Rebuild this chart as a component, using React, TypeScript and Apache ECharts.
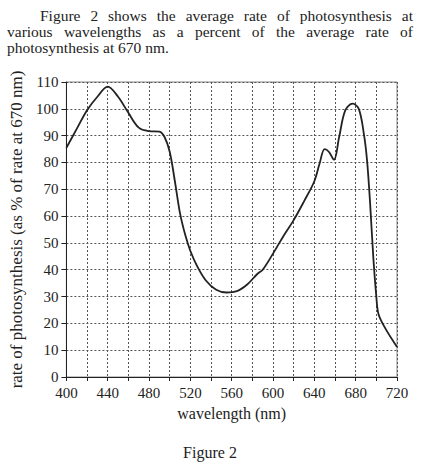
import React, { useEffect, useRef } from "react";
import * as echarts from "echarts";

const wavelengths = [400, 410, 420, 430, 440, 450, 460, 470, 480, 490, 495, 500, 505, 510, 515, 520, 527, 535, 545, 555, 565, 575, 585, 590, 600, 610, 620, 630, 640, 645, 650, 654, 659, 664, 670, 677, 683, 688, 691, 694, 697, 700, 702, 708, 720];
const rates = [85.5, 92.5, 99.5, 104.5, 108.3, 104.5, 98.5, 93, 91.7, 91.5, 89.5, 84, 73, 61, 53, 47, 41, 36, 32.5, 31.5, 32, 34.5, 38.5, 40, 46, 52.5, 58.5, 65.5, 73, 79.5, 85, 84, 81, 89.5, 99.5, 101.9, 100, 90.5, 80.8, 64.6, 45, 30, 23.6, 18.6, 11.2];

const paragraphLines = [
  "Figure 2 shows the average rate of photosynthesis at",
  "various wavelengths as a percent of the average rate of",
  "photosynthesis at 670 nm.",
];
const xAxisName = "wavelength (nm)";
const yAxisName = "rate of photosynthesis (as % of rate at 670 nm)";
const figureCaption = "Figure 2";

const SERIF = '"Liberation Serif", "Times New Roman", serif';

function measure(text: string, font: string): number {
  const c = document.createElement("canvas").getContext("2d");
  if (!c) return text.length * 7;
  c.font = font;
  return c.measureText(text).width;
}

function justifiedLine(text: string, x0: number, x1: number, y: number, justify: boolean, fontSize: number) {
  const font = `${fontSize}px ${SERIF}`;
  const style = { fill: "#222", font, verticalAlign: "middle" } as any;
  if (!justify) {
    return [{ type: "text", x: x0, y, style: { ...style, text, align: "left" } }];
  }
  const words = text.split(" ");
  const widths = words.map((w) => measure(w, font));
  const total = widths.reduce((a, b) => a + b, 0);
  const gap = (x1 - x0 - total) / (words.length - 1);
  const els: any[] = [];
  let x = x0;
  words.forEach((w, i) => {
    els.push({ type: "text", x, y, style: { ...style, text: w, align: "left" } });
    x += widths[i] + gap;
  });
  return els;
}

export default function App() {
  const ref = useRef<HTMLDivElement>(null);
  useEffect(() => {
    if (!ref.current) return;
    const chart = echarts.init(ref.current, undefined, { renderer: "svg" });
    const fs = 15.5;
    const graphics: any[] = [
      ...justifiedLine(paragraphLines[0], 40, 413, 15.5, true, fs),
      ...justifiedLine(paragraphLines[1], 7, 413, 31.5, true, fs),
      ...justifiedLine(paragraphLines[2], 7, 413, 47.5, false, fs),
      {
        type: "text",
        x: 210,
        y: 452,
        style: { text: figureCaption, fill: "#222", font: `16px ${SERIF}`, align: "center", verticalAlign: "middle" },
      },
    ];
    chart.setOption({
      animation: false,
      backgroundColor: "#fff",
      grid: {
        left: 59,
        right: 27,
        top: 82,
        bottom: 95,
        show: true,
        borderColor: "#888",
        borderWidth: 1,
        containLabel: false,
      },
      xAxis: {
        type: "value",
        min: 400,
        max: 720,
        interval: 20,
        name: xAxisName,
        nameLocation: "middle",
        nameGap: 28,
        nameTextStyle: { fontFamily: SERIF, fontSize: 16, color: "#222", verticalAlign: "top" },
        axisLine: { show: true, onZero: false, lineStyle: { color: "#222", width: 1 } },
        axisTick: { show: true, length: 4, lineStyle: { color: "#222" } },
        axisLabel: {
          fontFamily: SERIF,
          fontSize: 15,
          color: "#222",
          margin: 8,
          formatter: (v: number) => (v % 40 === 0 ? String(v) : ""),
        },
        splitLine: { show: true, lineStyle: { type: [2, 2], color: "#555", width: 1 } },
      },
      yAxis: {
        type: "value",
        min: 0,
        max: 110,
        interval: 10,
        name: yAxisName,
        nameLocation: "middle",
        nameRotate: 90,
        nameGap: 29,
        nameTextStyle: { fontFamily: SERIF, fontSize: 17, color: "#222" },
        axisLine: { show: true, lineStyle: { color: "#222", width: 1 } },
        axisTick: { show: true, length: 5, lineStyle: { color: "#222" } },
        axisLabel: { fontFamily: SERIF, fontSize: 15, color: "#222", margin: 8 },
        splitLine: { show: true, lineStyle: { type: [2, 2], color: "#555", width: 1 } },
      },
      series: [
        {
          type: "line",
          data: wavelengths.map((w, i) => [w, rates[i]]),
          smooth: 0.35,
          symbol: "none",
          lineStyle: { color: "#222", width: 1.8 },
        },
      ],
      graphic: graphics,
    });
    return () => chart.dispose();
  }, []);
  return (
    <div
      ref={ref}
      style={{ position: "fixed", left: 0, top: 0, width: 424, height: 472, background: "#fff" }}
    />
  );
}
